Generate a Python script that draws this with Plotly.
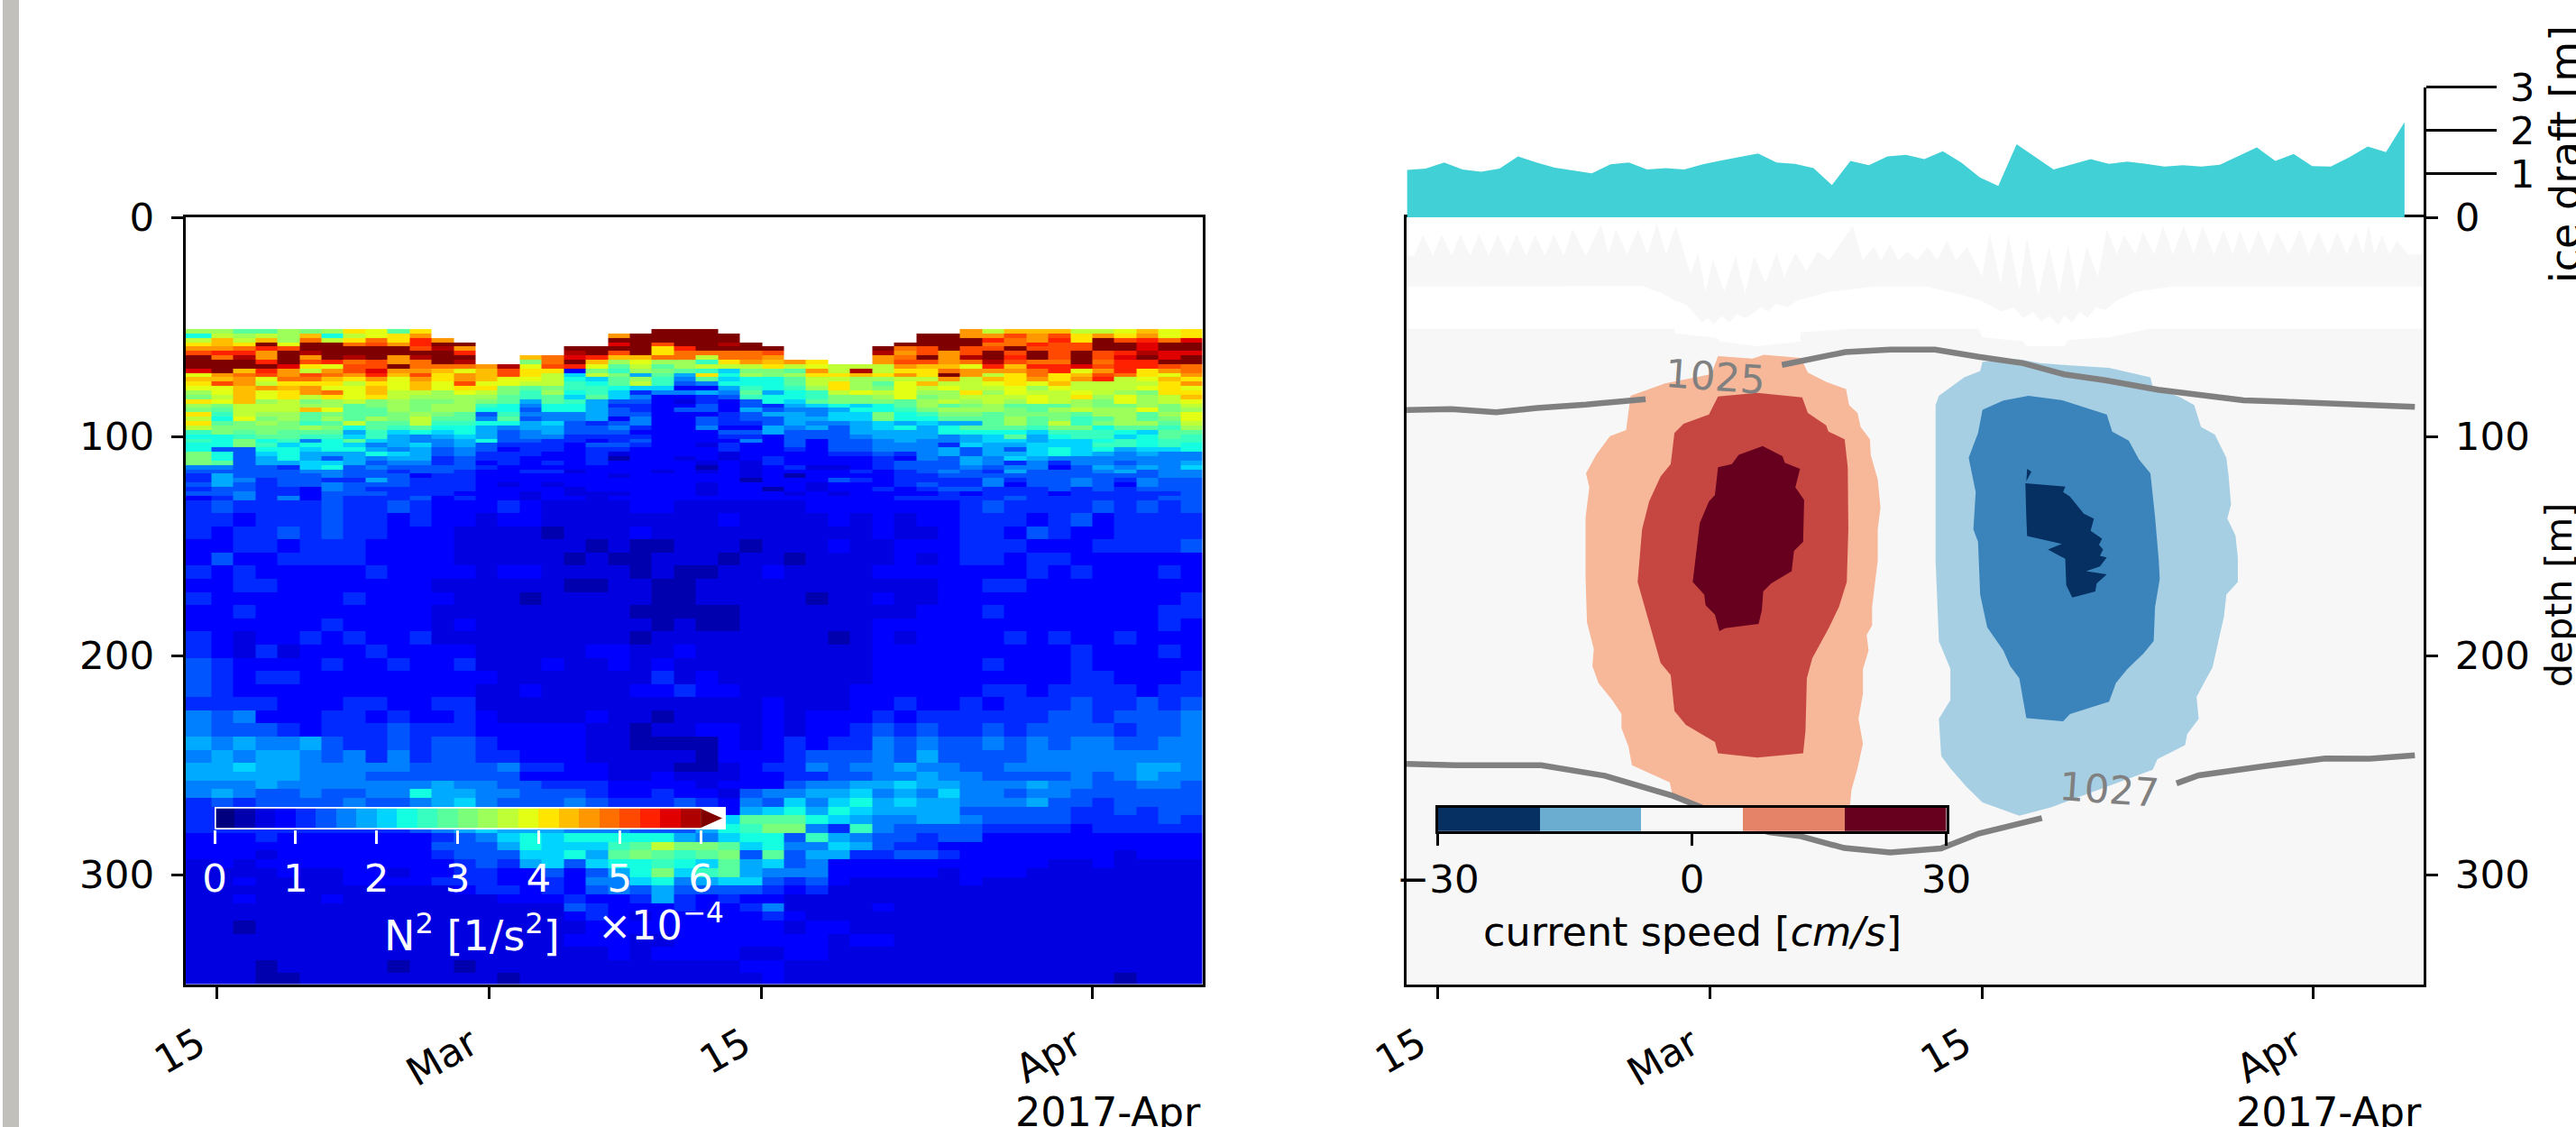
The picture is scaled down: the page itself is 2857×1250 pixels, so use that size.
import numpy as np
import plotly.graph_objects as go

W, H = 2857, 1250
N = None
FONT = "DejaVu Sans"
FS = 43.5
LW = 3.3

tick_days = [0, 14, 28, 45]
tick_text = ["15", "Mar", "15", "Apr"]
depth_ticks = [0, 100, 200, 300]

# N2 colour class (0..23 = 0.25e-4 steps, 24 = above 6e-4), one list per depth band, one value per column
n2_depth_edges = list(range(51, 130, 2)) + list(range(135, 250, 6)) + list(range(253, 322, 4)) + [327, 333, 339, 345, 351]
n2_day_edges = [-1.6] + [round(-0.264 + 1.131 * k, 3) for k in range(46)]
n2_classes = [
[13,13,11,11,13,12,13,16,15,11,16,N,N,N,N,N,N,N,N,N,N,24,24,24,N,N,N,N,N,N,N,N,N,N,N,18,14,17,17,17,14,14,15,17,15,16],
[9,14,13,14,13,17,9,14,15,16,18,N,N,N,N,N,N,N,N,18,24,24,24,24,24,N,N,N,N,N,N,N,N,24,24,18,18,20,18,20,16,18,16,18,15,16],
[14,17,14,17,13,19,14,16,19,16,21,18,N,N,N,N,N,N,N,24,24,24,24,24,24,N,N,N,N,N,N,N,N,24,24,24,21,19,18,21,16,24,20,21,19,22],
[16,17,16,24,15,24,24,19,20,18,21,24,24,N,N,N,N,N,N,22,24,20,24,24,23,24,N,N,N,N,N,N,24,24,24,24,19,19,21,20,20,24,24,22,24,24],
[18,18,19,21,20,24,24,24,24,24,20,23,18,N,N,N,N,24,24,24,24,16,21,24,24,24,24,N,N,N,N,24,19,20,24,20,20,24,20,20,20,24,24,22,24,24],
[20,21,21,18,24,23,24,24,24,24,24,24,21,N,N,N,N,23,24,20,24,16,19,19,19,19,20,N,N,N,N,23,18,20,18,20,24,20,24,20,24,20,21,23,22,22],
[24,19,23,18,24,18,24,23,24,18,23,24,24,N,N,17,19,22,21,17,17,19,19,14,19,19,18,N,N,N,N,18,19,24,18,23,24,21,24,20,24,20,22,24,22,24],
[24,24,24,21,24,20,21,19,20,18,19,24,23,N,N,12,19,24,17,13,15,13,13,10,16,18,17,18,16,N,N,18,20,20,18,19,23,20,19,19,24,19,21,21,24,24],
[24,24,24,24,22,16,15,20,20,24,19,19,19,18,23,15,20,21,15,11,14,11,13,14,14,14,16,14,15,14,14,14,18,17,17,15,21,17,21,21,22,20,21,21,20,19],
[22,24,17,21,18,14,18,20,22,18,18,17,15,17,20,16,16,3,12,10,13,12,11,10,8,12,12,11,18,14,23,14,16,16,19,18,18,18,19,21,15,18,21,16,18,19],
[15,18,19,20,18,20,19,18,21,17,20,16,18,17,20,16,14,8,14,12,7,11,7,16,9,13,12,13,16,16,17,16,18,16,24,18,14,16,19,16,17,20,19,16,15,18],
[17,17,18,15,19,19,17,16,18,15,18,16,18,17,15,15,14,9,8,11,13,10,6,11,8,9,9,11,14,14,13,13,14,14,18,14,17,16,18,16,18,21,14,15,17,16],
[16,20,18,14,16,16,16,14,16,15,17,15,20,15,15,14,14,10,9,11,14,10,5,6,9,9,9,11,14,16,13,11,15,17,14,14,15,16,15,17,14,14,14,14,16,18],
[15,15,17,18,17,18,15,15,17,15,17,15,16,16,12,11,12,10,10,9,8,8,3,3,7,10,9,10,13,16,13,12,15,14,15,14,14,15,13,15,14,14,14,15,16,15],
[13,15,17,15,16,18,19,15,17,14,14,13,15,14,12,10,13,9,10,8,4,6,6,7,6,11,7,9,10,14,15,14,15,13,13,16,13,15,14,14,15,14,13,12,16,16],
[12,14,17,15,16,14,16,15,16,14,13,13,13,13,11,10,11,8,11,8,6,3,3,4,5,10,9,9,10,12,12,13,15,12,13,14,14,14,15,14,16,13,15,13,14,17],
[16,15,17,13,14,12,13,14,12,13,12,12,13,12,11,7,11,10,7,5,5,3,2,4,3,5,9,8,11,12,12,12,11,13,14,13,14,13,15,14,13,12,15,13,14,15],
[13,12,14,14,14,13,13,11,12,13,12,13,13,10,9,6,9,9,7,4,4,3,3,5,3,5,4,7,8,9,8,9,11,13,11,12,13,11,11,11,13,12,12,13,12,14],
[12,11,14,14,14,17,15,11,11,13,12,13,13,9,9,5,9,9,7,5,4,3,5,5,3,7,5,6,6,7,9,9,10,12,13,13,13,12,11,13,14,13,13,15,12,13],
[16,10,14,13,13,11,12,11,11,12,13,12,11,5,10,6,6,6,7,5,5,3,3,3,4,5,7,7,6,8,8,12,9,10,12,12,11,12,12,12,11,13,13,11,13,15],
[14,9,15,12,13,11,13,11,13,12,14,11,11,6,11,5,6,6,7,3,6,3,3,5,4,5,5,7,7,8,8,12,9,9,11,11,11,13,11,12,10,11,13,11,12,15],
[16,11,12,13,12,10,11,14,11,11,14,10,10,9,9,7,8,5,4,5,6,3,3,5,4,4,5,7,6,6,7,8,7,8,7,7,11,13,11,14,10,12,13,13,11,14],
[14,12,12,12,12,13,12,9,11,10,11,9,9,7,6,7,7,5,5,6,4,3,3,6,3,3,7,6,7,5,7,8,9,7,9,11,11,11,10,12,12,9,11,11,10,13],
[10,12,11,12,11,11,11,7,10,8,9,8,9,7,5,6,7,5,5,5,3,3,3,3,5,5,7,5,5,5,7,7,7,7,9,9,9,9,8,10,10,10,9,8,11,11],
[9,9,10,11,11,10,10,8,10,7,6,7,8,7,5,6,6,4,4,4,4,3,3,3,4,4,3,5,5,5,6,7,7,7,6,7,8,11,7,9,10,10,8,9,11,10],
[10,9,12,9,10,6,9,11,8,7,6,6,7,9,5,5,4,4,3,4,5,3,3,3,3,6,3,5,3,5,5,6,7,6,6,7,8,8,7,8,8,9,10,9,10,10],
[9,9,12,10,8,9,9,8,6,7,8,6,7,5,4,4,4,3,5,5,4,3,3,2,4,3,3,5,3,5,5,6,6,6,4,8,7,7,8,8,8,10,10,9,10,9],
[9,5,5,9,9,8,9,9,7,6,7,5,6,5,3,4,4,3,4,4,3,3,3,3,4,3,3,4,3,5,5,6,6,6,7,5,7,5,8,9,8,9,7,8,8,9],
[12,9,5,8,9,7,7,7,9,8,7,5,6,4,4,4,3,3,4,2,3,3,3,3,2,3,3,3,3,4,4,5,4,6,7,5,7,7,8,9,8,7,6,7,6,6],
[12,9,5,7,9,7,5,7,6,7,7,4,5,4,4,3,3,3,4,1,3,3,2,3,2,3,4,3,3,3,3,4,3,6,5,7,6,8,7,6,6,6,6,6,6,6],
[12,11,5,7,7,8,8,7,5,6,6,4,5,3,4,3,4,3,4,3,3,3,3,2,3,2,4,3,3,3,3,4,5,5,5,7,6,4,6,4,6,6,5,6,6,7],
[6,6,5,5,4,8,9,5,6,5,5,5,5,4,3,3,3,3,3,3,3,3,3,1,3,2,3,4,2,2,3,4,5,5,5,6,5,6,6,3,5,7,6,7,6,8],
[5,5,5,5,5,6,6,5,5,4,5,5,4,3,3,4,4,2,3,3,3,2,3,2,3,2,3,3,3,3,4,3,4,5,6,5,4,7,5,5,5,6,7,5,6,6],
[4,7,5,5,5,5,6,5,5,5,3,4,4,3,3,3,3,3,3,2,3,3,3,3,3,2,3,1,3,3,3,3,4,4,5,5,5,5,5,5,5,5,5,5,6,6],
[4,7,6,4,5,5,4,4,7,5,4,4,4,3,3,3,3,3,3,3,3,3,3,3,3,1,3,3,3,5,4,3,4,4,4,4,6,4,5,5,6,5,4,6,5,5],
[5,7,5,4,5,5,6,5,5,5,4,4,4,3,2,3,2,3,3,3,3,3,3,2,3,3,3,3,2,3,3,3,4,5,4,4,6,3,5,5,6,5,3,6,5,5],
[4,5,5,4,4,3,6,5,4,4,4,4,4,3,3,3,3,2,3,3,3,3,3,2,3,3,1,3,2,3,3,4,3,4,5,5,4,4,4,5,4,5,4,5,5,5],
[5,5,6,4,4,3,5,5,5,4,4,4,3,3,3,2,3,2,2,2,3,3,3,2,3,3,3,2,3,2,3,3,3,3,4,3,4,4,4,3,4,4,4,4,4,5],
[3,4,6,4,6,3,5,4,4,4,5,3,4,3,3,2,3,3,2,3,3,3,3,3,3,3,3,3,3,3,3,3,4,4,4,4,4,5,4,4,4,4,4,4,5,5],
[4,5,4,4,4,4,5,4,4,5,4,3,3,3,4,3,2,2,2,2,3,3,2,2,2,2,2,2,3,3,3,3,3,3,3,4,5,4,4,4,4,5,4,5,4,5],
[4,4,3,4,4,4,5,4,4,3,4,3,3,2,3,3,2,2,2,2,2,2,2,2,3,2,2,2,2,3,2,3,2,3,3,4,4,4,3,4,5,3,4,4,4,4],
[4,3,4,4,5,4,5,4,4,3,3,3,2,2,2,2,1,2,2,2,3,2,2,2,2,2,2,2,2,2,2,3,2,2,3,4,4,3,5,4,3,3,4,4,4,4],
[3,3,4,4,3,4,4,4,3,3,3,3,2,2,2,2,2,2,1,2,1,1,2,2,2,1,2,2,2,3,2,2,3,3,3,4,4,4,3,3,3,4,4,4,4,5],
[3,5,3,3,4,4,4,4,3,3,3,3,2,2,2,2,2,1,2,1,1,2,2,2,1,2,2,1,2,2,2,2,3,2,3,4,4,3,4,4,3,3,3,3,3,3],
[4,3,4,3,3,3,3,3,4,3,3,3,3,2,3,3,2,2,2,2,1,2,1,1,2,2,3,2,2,2,2,3,3,3,3,3,3,3,4,3,4,3,3,3,4,3],
[3,3,4,4,3,3,3,3,3,3,3,2,2,2,2,2,2,1,1,2,2,1,1,2,2,2,2,2,2,2,2,2,2,2,3,3,4,4,3,3,3,3,3,3,3,3],
[4,3,3,3,3,3,3,4,3,3,3,3,2,2,2,1,2,2,2,2,2,1,1,2,2,2,2,2,1,2,2,3,2,2,3,3,3,3,3,3,3,3,3,3,3,4],
[3,3,4,3,3,3,3,3,3,3,3,2,2,2,2,2,2,2,2,2,1,1,1,1,1,2,2,2,2,2,2,2,2,3,3,3,4,3,3,3,3,3,3,3,4,4],
[3,3,3,3,3,3,4,3,3,3,3,2,3,2,2,2,2,2,2,2,2,1,2,1,1,2,2,2,2,2,2,3,3,3,3,3,3,3,3,3,3,3,3,3,4,3],
[4,3,2,3,3,4,3,4,3,3,4,2,2,2,2,2,2,2,2,2,1,2,2,2,2,2,2,2,2,1,2,3,2,3,3,3,3,4,3,4,3,3,4,3,3,3],
[4,3,2,4,2,3,3,3,4,3,3,3,3,2,2,2,2,2,3,3,2,2,3,2,2,2,2,2,2,2,2,3,3,3,3,3,3,3,3,3,4,3,3,3,4,3],
[5,4,3,3,3,3,4,3,3,4,3,3,4,2,2,2,3,2,2,3,2,3,2,2,2,2,2,2,2,2,2,3,3,3,3,3,4,3,3,3,4,3,3,3,3,3],
[5,4,3,4,4,3,3,3,3,3,3,3,3,3,2,2,2,2,2,2,2,4,2,3,2,2,2,2,2,2,2,3,3,3,3,3,3,3,3,3,4,4,3,3,3,4],
[5,4,3,3,3,3,3,3,3,3,3,3,3,2,2,3,2,2,2,2,3,3,4,3,3,2,2,2,2,2,3,3,3,3,3,3,4,4,3,4,4,4,4,3,4,4],
[4,4,4,4,3,3,3,4,4,3,3,4,4,2,2,2,2,2,2,2,2,2,2,2,2,2,3,2,2,2,3,3,4,3,3,4,3,4,4,4,5,4,4,5,4,5],
[6,5,6,3,3,3,4,4,3,4,3,3,4,3,2,2,2,2,3,2,2,1,2,2,2,2,3,2,3,3,3,4,3,4,4,4,4,4,4,5,5,4,5,5,5,6],
[6,5,5,5,4,3,4,4,4,5,4,4,4,3,3,3,3,3,2,2,1,2,2,3,3,2,3,2,3,3,4,5,4,5,4,4,5,4,5,5,5,5,4,5,5,6],
[7,6,7,6,6,7,5,4,4,5,4,5,5,4,3,3,3,3,2,2,1,1,1,1,3,2,3,4,3,4,4,6,5,6,5,5,6,5,6,5,6,6,5,5,6,6],
[6,7,6,7,7,6,5,6,4,6,4,5,5,4,4,3,3,3,2,2,2,2,2,1,3,3,3,4,5,5,5,6,5,7,5,5,5,5,6,6,6,6,6,6,6,6],
[7,7,8,7,7,6,6,6,6,6,5,5,5,5,6,4,4,3,3,2,2,2,1,1,2,3,4,4,6,5,6,6,7,6,6,5,5,6,6,6,6,6,6,7,7,6],
[7,7,7,7,7,6,6,6,5,5,5,5,5,5,5,3,3,3,3,2,2,3,2,2,2,3,3,4,4,5,5,6,6,7,6,6,5,5,5,5,6,5,6,7,6,6],
[6,6,6,7,6,6,6,6,6,6,6,7,6,6,5,5,4,4,4,3,3,3,3,2,3,3,3,5,6,6,7,7,8,7,7,6,6,6,7,6,6,5,5,6,6,5],
[6,7,6,5,5,6,5,5,6,6,9,7,7,6,6,5,5,5,4,3,3,4,3,3,2,5,6,6,7,7,8,6,7,6,8,6,6,5,6,6,5,5,5,5,5,5],
[4,5,4,5,5,5,5,6,5,5,6,7,8,6,5,5,5,6,5,4,4,4,5,4,3,6,5,8,6,8,9,7,8,7,7,6,6,6,7,5,5,4,5,5,5,5],
[4,4,5,5,5,5,6,5,5,5,5,6,7,6,6,5,5,5,5,4,4,4,5,4,3,7,8,9,7,9,8,7,7,7,7,5,5,5,5,5,4,4,5,4,5,5],
[4,4,4,5,5,5,5,5,5,5,5,6,7,7,6,6,5,5,5,5,5,4,5,5,8,11,11,11,9,8,7,6,6,7,7,6,5,5,5,5,4,4,4,4,5,4],
[4,4,4,4,4,4,4,4,4,4,5,6,7,8,7,7,7,6,6,6,5,5,5,7,9,10,12,12,6,4,10,6,5,5,5,5,4,4,4,4,3,4,4,4,4,4],
[3,3,3,4,3,3,3,3,3,3,3,4,5,6,8,9,8,9,9,9,9,9,7,6,8,9,9,5,10,7,6,5,5,4,5,5,3,3,3,3,3,3,3,3,3,3],
[3,3,3,3,3,3,3,3,3,3,3,5,5,5,7,9,8,8,8,10,11,14,12,12,11,8,9,6,6,8,7,5,4,4,3,3,3,3,3,3,3,3,3,3,3,3],
[3,3,3,2,3,3,3,3,3,3,3,4,5,5,5,8,8,9,7,11,12,11,10,11,12,5,11,5,7,7,4,4,5,5,4,3,3,3,3,3,3,3,2,3,3,3],
[2,3,2,3,3,3,3,3,3,3,3,3,4,5,4,7,8,5,8,9,9,10,9,8,11,7,8,5,6,3,3,3,3,3,3,3,3,3,3,2,2,3,2,2,2,2],
[2,2,2,2,3,2,2,3,3,2,3,3,4,4,3,3,5,3,5,7,9,12,8,10,11,7,6,6,6,3,3,3,3,3,2,3,3,3,2,2,2,2,2,2,2,2],
[2,2,3,2,2,2,2,3,3,3,3,4,4,4,3,3,4,3,6,6,8,9,6,7,8,8,5,4,5,3,2,2,2,2,2,3,2,2,2,2,2,2,2,2,2,2],
[2,2,2,2,2,2,2,2,2,2,2,2,3,4,4,3,4,3,5,6,5,7,5,5,5,5,4,3,4,2,2,2,2,2,2,2,2,2,2,2,2,2,2,2,2,2],
[2,2,3,2,2,2,3,2,2,2,2,2,2,2,3,3,3,4,3,3,4,7,4,3,4,3,3,2,2,2,2,2,2,2,2,2,2,2,2,2,2,2,2,2,2,2],
[2,2,2,2,2,2,2,2,2,2,2,2,2,2,2,2,2,5,4,3,3,3,4,3,3,4,6,2,2,2,2,3,2,2,2,2,2,2,2,2,2,2,2,2,2,2],
[2,2,2,2,2,2,2,2,2,2,2,2,2,2,2,2,2,3,4,3,2,3,3,3,3,3,4,3,2,2,2,2,2,2,2,2,2,2,2,2,2,2,2,2,2,2],
[2,2,1,2,2,2,2,2,2,2,2,2,2,2,2,2,2,2,3,3,3,3,3,3,3,3,3,2,3,3,2,2,2,2,2,2,2,2,2,2,2,2,2,2,2,2],
[2,2,2,2,2,2,2,2,2,2,2,2,2,2,2,2,2,3,3,3,2,2,3,3,3,3,3,3,3,2,3,3,2,2,2,2,2,2,2,2,2,2,2,2,2,2],
[2,2,2,2,2,2,2,2,2,2,2,2,2,2,2,2,2,2,2,3,2,3,3,3,3,2,2,3,3,2,2,2,2,2,2,2,2,2,2,2,2,2,2,2,2,2],
[2,2,2,1,2,2,2,2,2,1,2,2,1,2,2,2,2,2,2,2,2,2,2,2,2,3,3,2,2,2,2,2,2,2,2,2,2,2,2,2,2,2,2,2,2,2],
[2,2,2,1,1,2,2,2,2,2,2,2,2,2,1,2,2,2,2,2,2,2,2,2,2,2,3,2,2,2,2,2,2,2,2,2,2,2,2,2,2,2,1,2,2,2],
]

# ice draft [m]
ice_days = [round(-1.57 + 0.948 * i, 2) for i in range(55)]
ice_draft = [1.09,1.12,1.26,1.10,1.05,1.12,1.40,1.26,1.14,1.07,1.01,1.22,1.26,1.10,1.13,1.10,1.22,1.31,1.39,1.47,
             1.26,1.23,1.13,0.74,1.30,1.20,1.40,1.44,1.34,1.52,1.26,0.92,0.72,1.68,1.39,1.10,1.22,1.34,1.23,1.28,
             1.23,1.17,1.20,1.17,1.21,1.41,1.61,1.30,1.46,1.18,1.17,1.38,1.63,1.50,2.19]

# isopycnals (day, depth)
iso1025_a_day = [-1.57,0.73,3.03,5.14,7.64,10.7]
iso1025_a_depth = [88,87.6,89,87,85.5,83]
iso1025_b_day = [17.7,20.96,23.26,25.56,27.8,30.09,32.2,34.3,37.0,38.9,41.4,43.5,46.2,50.2]
iso1025_b_depth = [67.4,61.5,60.4,60.4,63.7,66.6,71.7,74.4,78.7,81,83.5,84.2,85.3,86.5]
iso1027_a_day = [-1.57,0.92,5.34,8.6,12.05,13.6,15.3,17.04,18.6,20.9,23.26,25.87,27.8,31.05]
iso1027_a_depth = [249.5,250.1,250.1,254.9,263.9,269.3,275.5,280.7,282.4,287.9,289.9,288.1,281.3,274.2]
iso1027_b_day = [37.96,39.1,42.4,45.6,47.9,50.2]
iso1027_b_depth = [258.4,254.7,250.6,247,247.1,245.6]

# current speed regions (day, depth)
pos_low_day = [14.42,16.19,16.78,18.67,19.03,19.97,20.99,21.15,21.58,21.74,22.22,22.26,22.62,22.76,22.62,22.62,22.33,22.33,22.05,22.15,21.86,21.86,21.63,21.86,21.58,21.27,21.15,13.59,12.06,11.94,10.0,9.82,9.46,9.46,8.99,8.28,7.97,8.04,7.69,7.62,7.62,7.81,7.64,8.16,8.87,9.70,9.93,11.7,14.07]
pos_low_depth = [63.4,64.5,62.8,64.2,70.9,75.1,78.4,85.7,89.3,95.7,101.3,108.4,119.7,132.5,142.4,156.6,177.8,186.3,190.6,197.7,206.2,217.5,228.9,240.2,251.5,261.4,272.8,272.8,262.9,257.9,250.1,241.6,233.1,226.7,220.4,212.6,204.8,197.0,184.9,165.1,136.8,123.3,116.9,108.4,99.9,97.1,81.5,75.8,71.6]
pos_mid_day = [14.42,16.43,18.74,19.03,19.97,20.09,20.92,21.08,21.11,21.03,20.63,20.09,19.26,18.98,18.91,18.79,16.43,14.42,14.26,12.77,12.18,11.99,11.47,11.11,10.29,10.52,10.88,11.47,11.99,12.18,12.65,13.95]
pos_mid_depth = [81.8,80.1,82.2,89.3,95.0,97.8,101.3,114.1,142.4,166.5,177.8,187.8,201.2,210.4,234.5,244.7,246.6,244.7,239.5,231.7,225.3,209.0,203.4,192.0,166.5,142.4,129.7,118.3,112.7,98.5,94.2,90.0]
pos_high_day = [16.71,17.73,17.85,18.63,18.39,18.84,18.79,18.32,18.2,17.14,16.74,16.67,16.5,14.78,14.49,14.26,13.78,13.71,13.12,13.31,13.48,13.95,14.26,14.42,15.13,15.48]
pos_high_depth = [104.4,109.1,112.0,114.8,123.3,129.0,148.1,152.3,161.5,167.2,170.8,179.3,185.6,187.5,188.9,181.4,177.1,172.2,166.5,150.9,139.6,129.7,126.8,114.1,112.7,108.4]
neg_low_day = [29.89,30.95,32.49,34.50,36.62,36.74,38.16,38.87,39.22,39.93,40.52,40.64,40.76,40.57,40.99,41.11,41.11,40.52,40.40,40.05,39.81,39.46,38.99,39.10,38.51,38.40,36.98,36.74,34.38,32.25,31.55,29.89,28.0,27.18,26.35,25.88,25.76,26.35,26.35,25.76,25.59,25.59,25.76,27.06,27.88,28.0]
neg_low_depth = [64.8,66.6,67.6,68.7,73.0,77.2,82.2,85.7,95.7,99.2,109.8,118.3,131.1,137.5,145.3,155.2,166.5,172.2,182.1,196.3,205.5,211.1,218.9,228.9,235.9,240.9,247.3,252.2,260.0,267.1,269.2,273.1,267.1,260.0,251.5,245.9,228.9,220.4,206.2,193.4,156.6,85.7,81.5,73.0,70.2,65.9]
neg_mid_day = [30.36,32.14,34.38,34.66,35.51,36.03,36.62,36.86,37.05,37.10,36.86,36.79,36.27,35.44,34.85,34.50,32.49,32.14,30.25,29.89,29.42,29.07,28.24,27.88,27.77,27.53,27.65,27.29,27.77,28.0,29.07]
neg_mid_depth = [81.5,83.6,90.0,97.8,102.0,110.5,116.9,136.8,156.6,165.1,177.8,193.4,199.1,206.2,212.6,221.1,226.7,230.0,228.6,210.4,204.8,197.7,187.1,172.2,148.1,142.4,125.4,109.8,98.5,87.9,83.6]
neg_high_day = [30.2,32.25,32.14,32.49,33.2,33.72,33.55,34.14,33.98,34.19,34.03,34.38,34.03,33.32,34.38,33.86,33.79,32.61,32.30,32.25,31.36,32.07,30.29,30.25]
neg_high_depth = [121.4,122.9,125.4,127.5,135.3,137.5,143.1,146.7,149.5,151.6,154.5,155.2,159.4,161.5,163.0,167.2,170.8,173.6,167.9,155.9,151.6,149.1,145.5,136.8]
neg_spot_day = [30.29,30.51,30.25]
neg_spot_depth = [114.8,116.2,120.5]

# pale band of near-zero speed below 50 m, and the spiky pale band near the surface
calm_day = [-1.6,12.2,12.2,14.35,14.55,16.47,18.65,18.65,21.26,27.8,28,30.1,30.28,32.2,32.4,34.5,36.6,50.6,50.6,-1.6]
calm_depth = [50.8,50.8,53,55,56.7,58.8,56.7,52.6,50.8,50.8,54.7,56.7,58.8,58.8,56,54.7,50.8,50.8,350,350]
surf_day = [-1.57,-1.19,-.73,-.23,.23,.73,1.19,1.69,2.15,2.65,3.11,3.61,4.07,4.57,5.03,5.53,5.99,6.49,6.95,7.64,8.41,8.79,9.17,9.75,10.33,10.79,11.28,11.75,12.25,13.01,13.4,13.78,14.16,14.74,15.32,15.81,16.27,16.85,17.43,17.81,18.39,18.96,19.54,20.11,21.34,21.84,22.42,22.8,23.26,23.68,24.14,24.64,25.18,25.68,26.18,26.64,27.21,27.98,28.36,28.94,29.32,29.9,30.28,30.86,31.43,31.93,32.4,32.85,33.35,33.93,34.39,34.89,35.27,35.85,36.23,36.81,37.27,37.77,38.34,38.84,39.3,39.88,40.38,40.84,41.22,41.68,42.18,42.68,43.14,43.72,44.29,44.75,45.25,45.75,46.21,46.71,47.17,47.55,47.82,48.13,48.51,48.9,49.28,49.85,50.6,
            50.6,37.77,35.85,34.9,34.3,33.8,33.4,33,32.6,32.2,31.9,31.4,31,30.6,30.1,29.6,29,28.55,27.9,27,25.1,22.4,20.1,18.5,18,17.4,17,16.6,16.2,15.8,15.4,15,14.6,14.2,13.9,13.6,13.2,12.8,12.2,11.5,10.5,-1.6]
surf_depth = [17.6,17.6,8,17.6,8,17.6,7.7,17.6,7.7,17.6,7.7,17.6,7.7,17.6,8,17.6,7.7,17.6,5.3,17.6,3.2,17,5.3,17,5.3,17,2.8,17,3.9,25.9,16.3,34.1,19,34.1,17.6,34.8,17.6,30,16.3,27.2,16.3,24.5,15.6,19.7,3.9,19.7,13.5,19.7,12.1,19.7,15.6,19.7,13.5,19.7,10.8,19.7,13.5,27.2,7.3,30.7,8,33.4,9.4,35.5,13.5,34.8,12.8,34.1,13.5,27.2,5.3,17,8,17,6.6,17,3.9,17,3.9,17,3.9,17,6,17,6,17,6,17,6.6,17,5.3,17,6.6,17,6.6,17,6.6,17,3.2,17,8,17,10.8,17,17,
              31.6,31.6,34.1,38,42.3,41,46,43,48,45,49.2,45,47.5,43,46,41,43,41,38,35.5,31.6,31.6,34.1,38,41,39.5,43,41,44,46,44,48,45,49,46,48,44,40,38,34.5,31.4,31.6]

# colourbars
n2_cb_ticks = [0, 1, 2, 3, 4, 5, 6]
n2_cb_edges = [0.25 * i for i in range(25)]
n2_cb_classes = list(range(24))
speed_cb_edges = [-30, -18, -6, 6, 18, 30]
speed_cb_values = [-24, -12, 0, 12, 24]
speed_cb_ticks = [-30, 0, 30]
speed_cb_colors = ["#053061", "#6bacd1", "#f7f7f7", "#e58368", "#67001f"]


def jet(v):
    r = np.interp(v, [0, .35, .66, .89, 1], [0, 0, 1, 1, .5])
    g = np.interp(v, [0, .125, .375, .64, .91, 1], [0, 0, 1, 1, 0, 0])
    b = np.interp(v, [0, .11, .34, .65, 1], [.5, 1, 1, 0, 0])
    return f"rgb({int(r*255)},{int(g*255)},{int(b*255)})"


jet_scale = []
for i in range(25):
    c = jet(i / 24)
    jet_scale += [[i / 25, c], [(i + 1) / 25, c]]
speed_scale = []
for i, c in enumerate(speed_cb_colors):
    speed_scale += [[i / 5, c], [(i + 1) / 5, c]]


def to_n2(c):
    return None if c is None else (c + 0.5) * 0.25


z = [[to_n2(c) for c in row] for row in n2_classes]


def dom_x(a, b):
    return [a / W, b / W]


def dom_y(top, bottom):
    return [1 - bottom / H, 1 - top / H]


fig = go.Figure()
fig.add_trace(go.Heatmap(x=n2_day_edges, y=n2_depth_edges, z=z, zmin=0, zmax=6.25, colorscale=jet_scale,
                         showscale=False, hoverongaps=False, xaxis="x", yaxis="y"))


def region(xs, ys, color):
    fig.add_trace(go.Scatter(x=xs, y=ys, mode="lines", fill="toself", fillcolor=color,
                             line=dict(width=0), hoverinfo="skip", showlegend=False, xaxis="x2", yaxis="y2"))


PALE = "#f7f7f7"
region(calm_day, calm_depth, PALE)
region(surf_day, surf_depth, PALE)
region(pos_low_day, pos_low_depth, "#f7b799")
region(pos_mid_day, pos_mid_depth, "#c64741")
region(pos_high_day, pos_high_depth, "#67001f")
region(neg_low_day, neg_low_depth, "#a7cfe4")
region(neg_mid_day, neg_mid_depth, "#3a84bb")
region(neg_high_day, neg_high_depth, "#053061")
region(neg_spot_day, neg_spot_depth, "#053061")

for xs, ys in [(iso1025_a_day, iso1025_a_depth), (iso1025_b_day, iso1025_b_depth),
               (iso1027_a_day, iso1027_a_depth), (iso1027_b_day, iso1027_b_depth)]:
    fig.add_trace(go.Scatter(x=xs, y=ys, mode="lines", line=dict(color="#808080", width=6.5),
                             showlegend=False, xaxis="x2", yaxis="y2"))

fig.add_trace(go.Scatter(x=ice_days + [ice_days[-1]], y=ice_draft + [0], mode="lines", fill="tozeroy",
                         fillcolor="#41d0d6", line=dict(width=0), showlegend=False, xaxis="x3", yaxis="y3"))

# N2 colourbar
fig.add_trace(go.Heatmap(x=n2_cb_edges, y=[0, 1], z=[[to_n2(c) for c in n2_cb_classes]], zmin=0, zmax=6.25,
                         colorscale=jet_scale, showscale=False, xaxis="x4", yaxis="y4"))
fig.add_trace(go.Scatter(x=[6, 6.31, 6, 6], y=[0, .5, 1, 0], mode="lines", fill="toself", fillcolor="#800000",
                         line=dict(width=0), showlegend=False, xaxis="x4", yaxis="y4"))
fig.add_trace(go.Scatter(x=[0, 6, 6.31, 6, 0, 0], y=[0, 0, .5, 1, 1, 0], mode="lines", cliponaxis=False,
                         line=dict(color="white", width=3.3), showlegend=False, xaxis="x4", yaxis="y4"))

# speed colourbar
fig.add_trace(go.Heatmap(x=speed_cb_edges, y=[0, 1], z=[speed_cb_values], zmin=-30, zmax=30,
                         colorscale=speed_scale, showscale=False, xaxis="x5", yaxis="y5"))

tf = dict(family=FONT, size=FS, color="black")
axis_common = dict(showgrid=False, zeroline=False, showline=True, linecolor="black", linewidth=LW,
                   ticks="outside", tickcolor="black", tickwidth=LW, ticklen=13, tickfont=tf, mirror=True)
x_axis = dict(axis_common, range=[-1.574, 50.65], tickvals=tick_days, ticktext=tick_text, tickangle=-30,
              ticklabelstandoff=8, ticklabelshift=-20)
y_axis = dict(axis_common, range=[350, 0], tickvals=depth_ticks, ticklabelstandoff=10)

fig.update_layout(
    width=W, height=H, autosize=False, margin=dict(l=0, r=0, t=0, b=0, pad=0, autoexpand=False),
    paper_bgcolor="white", plot_bgcolor="white", font=dict(family=FONT, size=FS), showlegend=False,
    xaxis=dict(x_axis, domain=dom_x(206, 1334), anchor="y"),
    yaxis=dict(y_axis, domain=dom_y(241, 1091.5), anchor="x"),
    xaxis2=dict(x_axis, domain=dom_x(1560, 2688), anchor="y2"),
    yaxis2=dict(y_axis, domain=dom_y(241, 1091.5), anchor="x2", side="right"),
    xaxis3=dict(domain=dom_x(1560, 2688), range=[-1.6, 50.6], anchor="y3", visible=False),
    yaxis3=dict(domain=dom_y(96.5, 241), range=[0, 3], anchor="x3", side="right", showgrid=False, zeroline=False,
                showline=True, linecolor="black", linewidth=LW, ticks="outside", tickcolor="black", tickwidth=LW,
                ticklen=78, tickvals=[1, 2, 3], tickfont=tf, ticklabelstandoff=6),
    xaxis4=dict(domain=dom_x(238, 805), range=[0, 6.31], anchor="y4", showgrid=False, zeroline=False, showline=False,
                ticks="outside", tickcolor="white", tickwidth=LW, ticklen=15, tickvals=n2_cb_ticks,
                tickfont=dict(family=FONT, size=FS, color="white"), ticklabelstandoff=1),
    yaxis4=dict(domain=dom_y(895, 920), range=[0, 1], anchor="x4", visible=False),
    xaxis5=dict(domain=dom_x(1594.7, 2158.6), range=[-30, 30], anchor="y5", showgrid=False, zeroline=False,
                showline=True, mirror=True, linecolor="black", linewidth=LW, ticks="outside", tickcolor="black",
                tickwidth=LW, ticklen=13, tickvals=speed_cb_ticks, tickfont=tf, ticklabelstandoff=0),
    yaxis5=dict(domain=dom_y(896, 921.7), range=[0, 1], anchor="x5", showgrid=False, zeroline=False, showline=True,
                mirror=True, linecolor="black", linewidth=LW, ticks="", showticklabels=False),
    shapes=[dict(type="rect", xref="paper", yref="paper", x0=3 / W, x1=21 / W, y0=0, y1=1,
                 fillcolor="#c2c0bb", line=dict(width=0), layer="below")],
)


def note(px, py, text, color="black", anchor="center", angle=0, size=44.5):
    fig.add_annotation(x=px / W, y=1 - py / H, xref="paper", yref="paper", text=text, showarrow=False,
                       xanchor=anchor, yanchor="middle", textangle=angle,
                       font=dict(family=FONT, size=size, color=color))


note(1334, 1233, "2017-Apr", anchor="right")
note(2688, 1233, "2017-Apr", anchor="right")
note(523, 1035, "N<sup>2</sup> [1/s<sup>2</sup>]", color="white", size=46)
note(733, 1023, "×10<sup>−4</sup>", color="white")
note(1876.7, 1033, "current speed [<i>cm/s</i>]")
note(2838, 660, "depth [m]", angle=-90, size=41)
note(2845, 171, "ice draft [m]", angle=-90, size=46)
for day, depth, label in [(14.28, 73, "1025"), (34.5, 261.5, "1027")]:
    fig.add_annotation(x=day, y=depth, xref="x2", yref="y2", text=label, showarrow=False, textangle=4,
                       font=dict(family=FONT, size=FS, color="#808080"))

fig.write_html("out.html", config=dict(displayModeBar=False),
               post_script="document.body.style.margin='0';document.body.style.overflow='hidden';")
